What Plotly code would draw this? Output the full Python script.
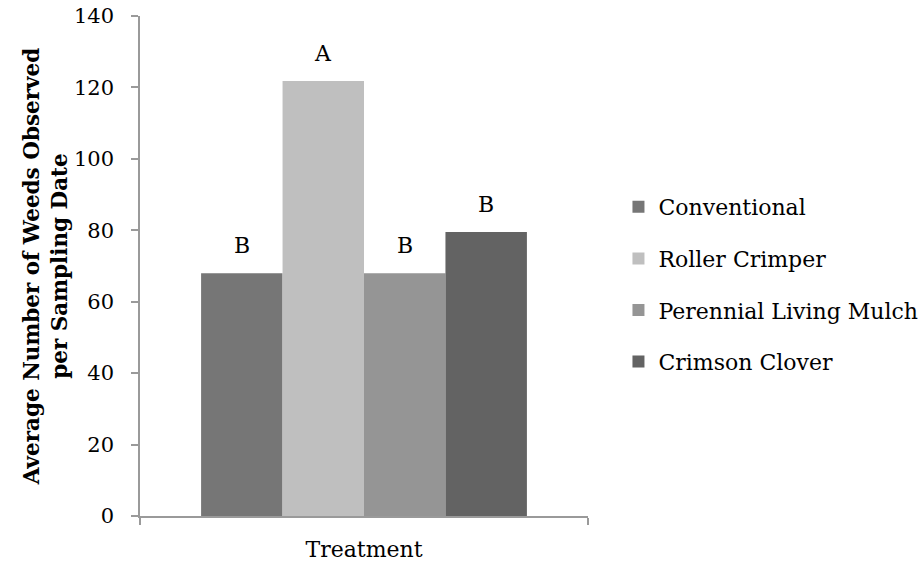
import plotly.graph_objects as go

treatments = ["Conventional", "Roller Crimper", "Perennial Living Mulch", "Crimson Clover"]
weeds = [68.0, 121.8, 68.0, 79.5]
letters = ["B", "A", "B", "B"]
colors = ["#767676", "#bfbfbf", "#959595", "#636363"]
positions = [0, 1, 2, 3]

FONT = "DejaVu Serif"

fig = go.Figure()
for i, name in enumerate(treatments):
    fig.add_trace(go.Bar(
        x=[positions[i]], y=[weeds[i]], name=name, width=1,
        marker=dict(color=colors[i], line=dict(width=0)),
        legendgroup=name, hoverinfo="skip",
    ))
    fig.add_annotation(x=positions[i], y=weeds[i], text=letters[i],
                       showarrow=False, yanchor="bottom", yshift=13,
                       font=dict(family=FONT, size=22, color="black"))

fig.update_layout(
    width=924, height=564,
    margin=dict(l=140, r=336, t=16, b=48, autoexpand=False),
    paper_bgcolor="white", plot_bgcolor="white",
    font=dict(family=FONT, size=22, color="black"),
    showlegend=True,
    legend=dict(x=1.068, xanchor="left", y=0.66, yanchor="top",
                tracegroupgap=20, font=dict(family=FONT, size=22, color="black"),
                bgcolor="rgba(0,0,0,0)"),
    xaxis=dict(range=[-1.25, 4.25], showgrid=False, zeroline=False, automargin=False,
               showline=True, linecolor="#9a9a9a", linewidth=1.5,
               tickmode="array", tickvals=[-1.25, 4.25], ticktext=["", ""],
               ticks="outside", ticklen=7, tickcolor="#9a9a9a", tickwidth=1.5,
               title=dict(text="Treatment", standoff=13,
                          font=dict(family=FONT, size=22, color="black"))),
    yaxis=dict(range=[0, 140], dtick=20, showgrid=False, zeroline=False, automargin=False,
               showline=True, linecolor="#9a9a9a", linewidth=1.5,
               ticks="outside", ticklen=7, tickcolor="#9a9a9a", tickwidth=1.5,
               ticklabelstandoff=13, ticklabeloverflow="allow",
               tickfont=dict(family=FONT, size=21, color="black"),
               title=dict(text="<b>Average Number of Weeds Observed</b><br><b>per Sampling Date</b>",
                          standoff=0,
                          font=dict(family=FONT, size=21.5, color="black"))),
)

fig.write_html("out.html", config={"displayModeBar": False},
               post_script="document.body.style.margin='0';")
